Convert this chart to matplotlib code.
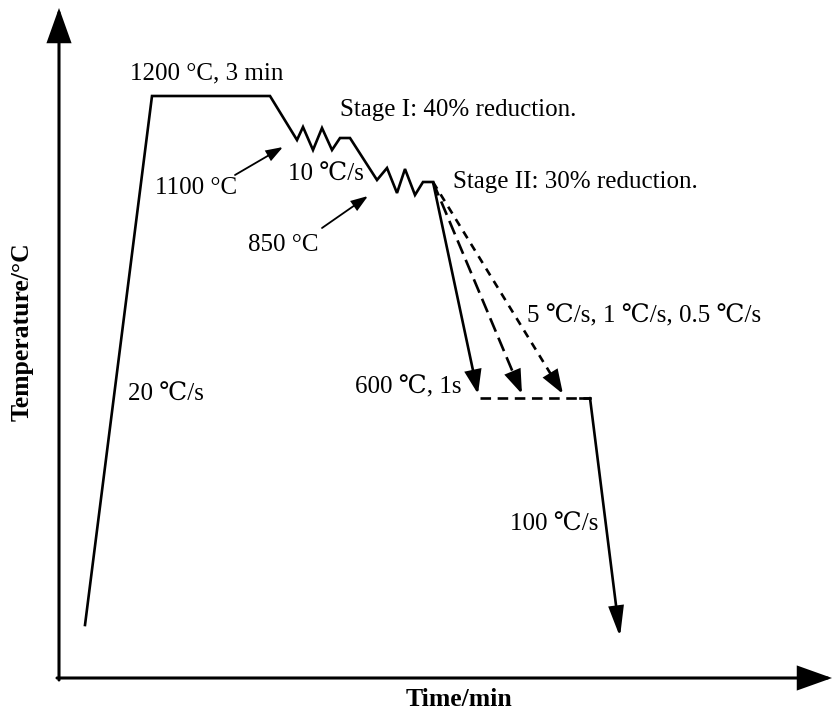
import matplotlib
matplotlib.use("Agg")
import matplotlib.pyplot as plt
from matplotlib.patches import FancyArrowPatch
import numpy as np

plt.rcParams['font.family'] = ['Liberation Serif', 'DejaVu Serif']

# Schematic thermal route (time units, temperature units of the schematic)
route_time = [85, 152, 270, 297, 303, 313, 322, 332, 340, 350,
              377, 387, 397, 405, 415, 423, 433]
route_temp = [91, 620, 620, 576, 589, 566, 588, 566, 578, 578,
              536, 548, 523, 547, 521, 534, 534]

# Cooling branches to 600 C (end time for 5, 1, 0.5 C/s)
cool_end_time = [478, 522, 563]
cool_end_temp = 322
cool_styles = ['-', (0, (5.5, 2.5)), (0, (3, 2.5))]

hold_time = [480, 590]
hold_temp = 318
quench_end = (620, 79)

fig = plt.figure(figsize=(8.34, 7.16), dpi=100)
ax = fig.add_axes([0, 0, 1, 1])
ax.set_xlim(0, 834)
ax.set_ylim(0, 716)
ax.axis('off')

LW = 1.9
def arrow(p0, p1, lw=LW, hl=14, hw=5.0, ls='-'):
    a = FancyArrowPatch(p0, p1, arrowstyle=f'-|>,head_length={hl},head_width={hw}',
                        mutation_scale=1, lw=lw, color='black', shrinkA=0, shrinkB=0,
                        linestyle=ls, joinstyle='miter')
    ax.add_patch(a)

def dashed_arrow(p0, p1, ls, lw=LW, hl=14, hw=5.0):
    p0 = np.array(p0, float); p1 = np.array(p1, float)
    d = p1 - p0
    u = d / np.hypot(*d)
    hp = hl * 100 / 72.0
    base = p1 - u * (hp + 2)
    ax.plot([p0[0], base[0]], [p0[1], base[1]], color='black', lw=lw, linestyle=ls,
            solid_capstyle='butt', dash_capstyle='butt')
    arrow(tuple(base), tuple(p1), lw=lw, hl=hl, hw=hw)

# axes
arrow((59, 36), (59, 708), lw=2.2, hl=21, hw=7.5)
arrow((57, 38), (832, 38), lw=2.2, hl=21, hw=7.5)

# main route
ax.plot(route_time, route_temp, color='black', lw=LW, solid_joinstyle='miter')

# cooling branches
start = (route_time[-1], route_temp[-1])
for t_end, ls in zip(cool_end_time, cool_styles):
    dashed_arrow(start, (t_end, cool_end_temp), ls)

# isothermal hold
ax.plot(hold_time, [hold_temp, hold_temp], color='black', lw=LW,
        linestyle=(0, (4, 2.5)), dash_capstyle='butt')
ax.plot([hold_time[1] - 10, hold_time[1]], [hold_temp, hold_temp], color='black', lw=LW)

# quench
arrow((hold_time[1], hold_temp), quench_end, lw=LW, hl=18, hw=4.5)

# pointer arrows
arrow((235, 541), (283, 569), lw=1.3, hl=10, hw=3.5)
arrow((322, 488), (368, 520), lw=1.3, hl=10, hw=3.5)

fs = 18
def txt(x, y, s, **kw):
    ax.text(x, y, s, fontsize=fs, ha='left', va='center', **kw)

txt(130, 643, '1200 °C, 3 min')
txt(340, 606, 'Stage I: 40% reduction.')
txt(155, 528, '1100 °C')
txt(288, 541, '10 ℃/s')
txt(248, 471, '850 °C')
txt(453, 534, 'Stage II: 30% reduction.')
txt(527, 400, '5 ℃/s, 1 ℃/s, 0.5 ℃/s')
txt(355, 329, '600 ℃, 1s')
txt(128, 321, '20 ℃/s')
txt(510, 191, '100 ℃/s')

ax.text(459, 16, 'Time/min', fontsize=18.5, fontweight='bold', ha='center', va='center')
ax.text(22, 384, 'Temperature/°C', fontsize=18.5, fontweight='bold', ha='center', va='center',
        rotation=90)

fig.savefig('out.png', dpi=100)
